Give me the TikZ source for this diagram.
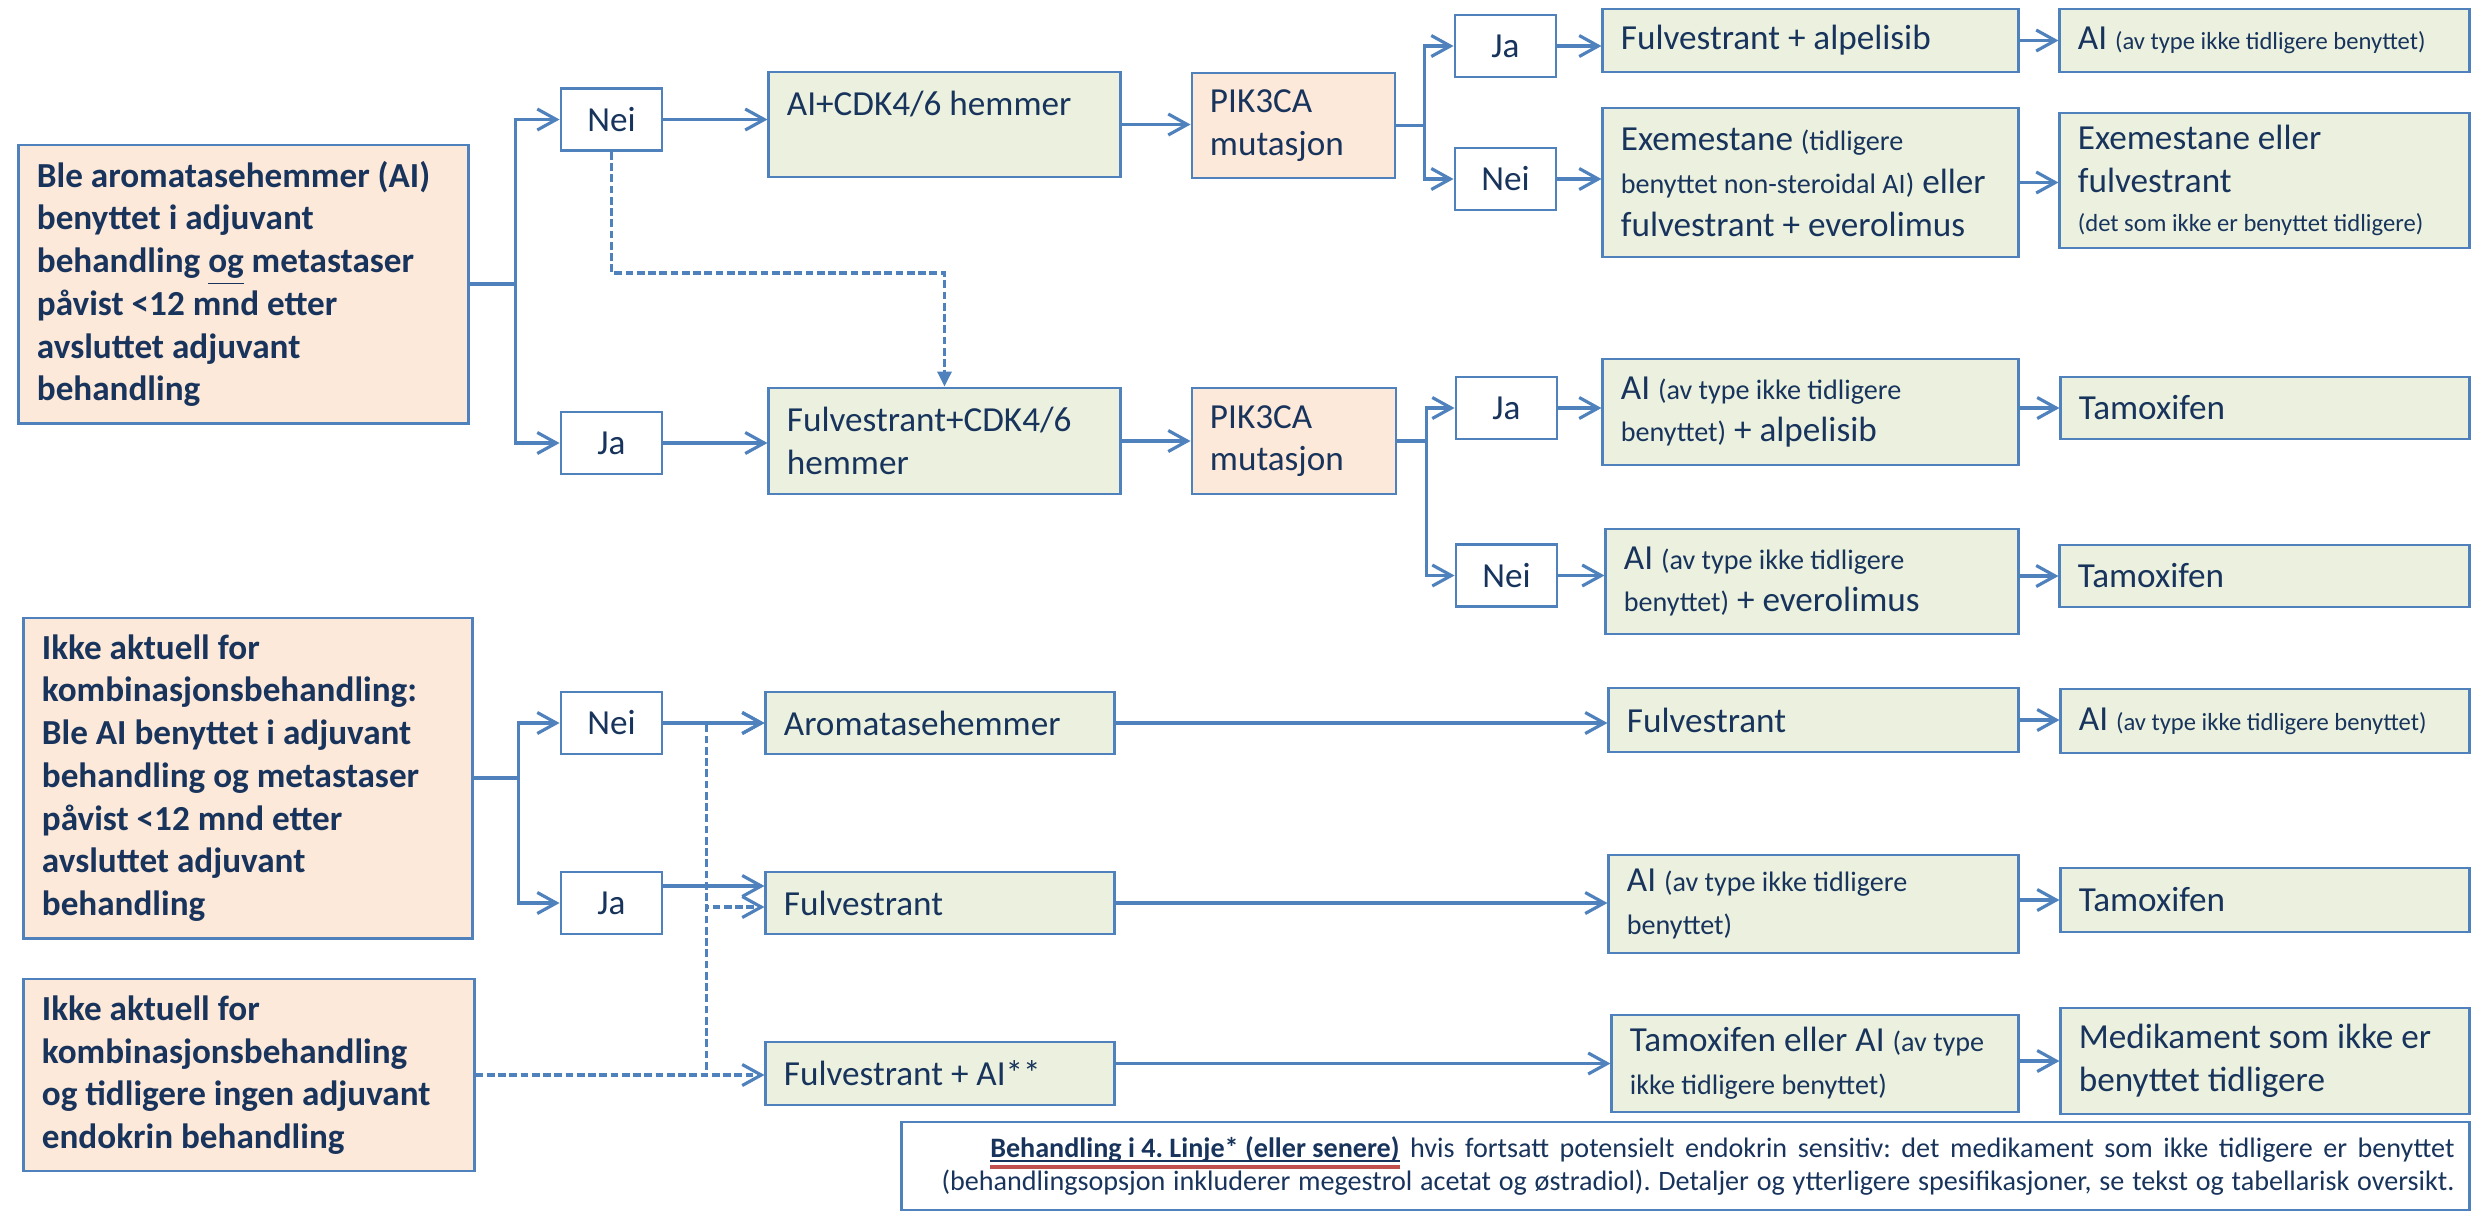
\documentclass[tikz,border=0pt]{standalone}
\usepackage{fontspec}
\setmainfont{Carlito}
\usetikzlibrary{positioning,arrows.meta}
\definecolor{ink}{RGB}{24,52,92}
\definecolor{edge}{RGB}{79,129,189}
\definecolor{qfill}{RGB}{253,233,217}
\definecolor{tfill}{RGB}{235,241,222}
\definecolor{ulred}{RGB}{192,80,77}
\frenchspacing
\newcommand{\sm}{\fontsize{8}{9.7}\selectfont}
\newcommand{\xs}{\fontsize{7}{8.5}\selectfont}
\newcommand{\redul}[1]{\setbox0=\hbox{#1}\rlap{\color{ink}\rule[-1.3pt]{\wd0}{0.5pt}}\rlap{\color{ulred}\rule[-3.2pt]{\wd0}{0.9pt}}\box0\relax}

\begin{document}
\begin{tikzpicture}[
  x=0.01cm, y=-0.01cm,
  every node/.style={font=\fontsize{10}{12.15}\selectfont, text=ink,
    execute at begin node={\spaceskip=0pt\xspaceskip=0pt\frenchspacing}},
  base/.style={draw=edge, line width=0.8pt, inner xsep=0.18cm, inner ysep=0.05cm, align=left},
  qbox/.style={base, fill=qfill, font=\fontsize{10}{12.15}\selectfont\bfseries},
  pbox/.style={base, fill=qfill},
  tbox/.style={base, fill=tfill},
  ans/.style={draw=edge, line width=0.8pt, fill=white, minimum width=1.01cm, minimum height=0.62cm},
  note/.style={draw=edge, line width=0.6pt, align=right, inner xsep=0.15cm, font=\fontsize{8}{9.5}\selectfont},
  arr/.style={draw=edge, line width=0.9pt, -{Straight Barb[length=1.9mm,width=2.1mm]}},
  darr/.style={arr, dash pattern=on 2.2pt off 1pt},
  dtri/.style={draw=edge, line width=0.9pt, dash pattern=on 2.2pt off 1pt, -{Triangle[length=1.5mm,width=1.4mm]}}
]
\useasboundingbox (0,0) rectangle (2471,1211);

% first line: AI + CDK4/6
\node[qbox, text width=4.13cm, minimum height=2.78cm] (aiadj) at (243.5,284) {Ble aromatasehemmer (AI)\\ benyttet i adjuvant\\ behandling \underline{og} metastaser\\ påvist <12 mnd etter\\ avsluttet adjuvant\\ behandling};
\node[ans] (nei1) at (611.5,119.5) {Nei};
\node[ans] (ja1) at (611.5,443) {Ja};
\node[tbox, text width=3.15cm, minimum height=1.05cm] (acdk) at (944.5,124.5) {AI+CDK4/6 hemmer\\ \mbox{}};
\node[tbox, text width=3.15cm, minimum height=1.06cm] (fc) at (944.5,441) {Fulvestrant+CDK4/6\\ hemmer};
\node[pbox, text width=1.67cm, minimum height=1.05cm] (pik1) at (1293.5,125.5) {PIK3CA\\ mutasjon};
\node[pbox, text width=1.68cm, minimum height=1.06cm] (pik2) at (1294,441) {PIK3CA\\ mutasjon};
\node[ans] (ja2) at (1505.5,46) {Ja};
\node[ans] (nei2) at (1505.5,179) {Nei};
\node[ans] (ja3) at (1506.5,408) {Ja};
\node[ans] (nei3) at (1506.5,575.5) {Nei};
\node[tbox, text width=3.79cm, minimum height=0.63cm] (fa) at (1810.5,40.5) {Fulvestrant + alpelisib};
\node[tbox, text width=3.73cm, minimum height=0.63cm] (ai1) at (2264.5,40.5) {AI {\xs (av type ikke tidligere benyttet)}};
\node[tbox, text width=3.79cm, minimum height=1.49cm] (ex) at (1810.5,182.5) {Exemestane {\sm (tidligere}\\ {\sm benyttet non-steroidal AI)} eller\\ fulvestrant + everolimus};
\node[tbox, text width=3.73cm, minimum height=1.35cm] (exf) at (2264.5,180.5) {Exemestane eller\\ fulvestrant\\[-1pt] {\xs (det som ikke er benyttet tidligere)}};
\node[tbox, text width=3.79cm, minimum height=1.06cm] (aia) at (1810.5,412) {AI {\sm (av type ikke tidligere}\\ {\sm benyttet)} + alpelisib};
\node[tbox, text width=3.72cm, minimum height=0.62cm] (tam1) at (2265,408) {Tamoxifen};
\node[tbox, text width=3.76cm, minimum height=1.05cm] (aie) at (1812,581.5) {AI {\sm (av type ikke tidligere}\\ {\sm benyttet)} + everolimus};
\node[tbox, text width=3.73cm, minimum height=0.62cm] (tam2) at (2264.5,576) {Tamoxifen};

% not for combination
\node[qbox, text width=4.12cm, minimum height=3.2cm] (kombi) at (248,778) {Ikke aktuell for\\ kombinasjonsbehandling:\\ Ble AI benyttet i adjuvant\\ behandling og metastaser\\ påvist <12 mnd etter\\ avsluttet adjuvant\\ behandling};
\node[qbox, text width=4.14cm, minimum height=1.92cm] (ingen) at (249,1075) {Ikke aktuell for\\ kombinasjonsbehandling\\ og tidligere ingen adjuvant\\ endokrin behandling};
\node[ans] (nei4) at (611.5,723) {Nei};
\node[ans] (ja4) at (611.5,903) {Ja};
\node[tbox, text width=3.12cm, minimum height=0.62cm] (arom) at (940,723) {Aromatasehemmer};
\node[tbox, text width=3.12cm, minimum height=0.62cm] (fulv) at (940,903) {Fulvestrant};
\node[tbox, text width=3.12cm, minimum height=0.63cm] (fai) at (940,1073.5) {Fulvestrant + AI**};
\node[tbox, text width=3.73cm, minimum height=0.64cm] (fulv2) at (1813.5,720) {Fulvestrant};
\node[tbox, text width=3.73cm, minimum height=0.98cm] (aib) at (1813.5,904) {AI {\sm (av type ikke tidligere}\\ {\sm benyttet)}};
\node[tbox, text width=3.70cm, minimum height=0.97cm] (tai) at (1815,1063.5) {Tamoxifen eller AI {\sm (av type}\\ {\sm ikke tidligere benyttet)}};
\node[tbox, text width=3.72cm, minimum height=0.64cm] (ai2) at (2265,721) {AI {\xs (av type ikke tidligere benyttet)}};
\node[tbox, text width=3.72cm, minimum height=0.64cm] (tam3) at (2265,900) {Tamoxifen};
\node[tbox, text width=3.72cm, minimum height=1.06cm] (med) at (2265,1061) {Medikament som ikke er\\ benyttet tidligere};
\node[note, text width=15.37cm, minimum height=0.88cm] (linje4) at (1685.5,1166) {\redul{\textbf{Behandling i 4. Linje* (eller senere)}} hvis fortsatt potensielt endokrin sensitiv: det medikament som ikke tidligere er benyttet\\ (behandlingsopsjon inkluderer megestrol acetat og østradiol). Detaljer og ytterligere spesifikasjoner, se tekst og tabellarisk oversikt.};

\draw[arr] (aiadj.east) -- ++(46,0) |- (nei1.west);
\draw[arr] (aiadj.east) -- ++(46,0) |- (ja1.west);
\draw[arr] (nei1.east) -- (nei1.east -| acdk.west);
\draw[arr] (ja1.east) -- (ja1.east -| fc.west);
\draw[dtri] (nei1.south) -- ++(0,121) -| (fc.north);
\draw[arr] (acdk.east) -- (acdk.east -| pik1.west);
\draw[arr] (fc.east) -- (fc.east -| pik2.west);
\draw[arr] (pik1.east) -- ++(28,0) |- (ja2.west);
\draw[arr] (pik1.east) -- ++(28,0) |- (nei2.west);
\draw[arr] (pik2.east) -- ++(29,0) |- (ja3.west);
\draw[arr] (pik2.east) -- ++(29,0) |- (nei3.west);
\draw[arr] (ja2.east) -- (ja2.east -| fa.west);
\draw[arr] (fa.east) -- (fa.east -| ai1.west);
\draw[arr] (nei2.east) -- (nei2.east -| ex.west);
\draw[arr] (ex.east) -- (ex.east -| exf.west);
\draw[arr] (ja3.east) -- (ja3.east -| aia.west);
\draw[arr] (aia.east |- tam1.west) -- (tam1.west);
\draw[arr] (nei3.east) -- (nei3.east -| aie.west);
\draw[arr] (aie.east |- tam2.west) -- (tam2.west);

\draw[arr] (kombi.east) -- ++(45,0) |- (nei4.west);
\draw[arr] (kombi.east) -- ++(45,0) |- (ja4.west);
\draw[arr] (nei4.east) -- (nei4.east -| arom.west);
\draw[arr] ([yshift=0.17cm]ja4.east) -- ([yshift=0.17cm]ja4.east -| fulv.west);
\draw[darr] (ingen.east) -- ++(231,0) |- (arom.west);
\draw[darr] (ingen.east) -- ++(231,0) |- ([yshift=-0.04cm]fulv.west);
\draw[darr] (ingen.east) -- (ingen.east -| fai.west);
\draw[arr] (arom.east) -- (arom.east -| fulv2.west);
\draw[arr] (fulv.east) -- (fulv.east -| aib.west);
\draw[arr] (fai.east |- tai.west) -- (tai.west);
\draw[arr] (fulv2.east) -- (fulv2.east -| ai2.west);
\draw[arr] (aib.east |- tam3.west) -- (tam3.west);
\draw[arr] (tai.east |- med.west) -- (med.west);
\end{tikzpicture}
\end{document}
